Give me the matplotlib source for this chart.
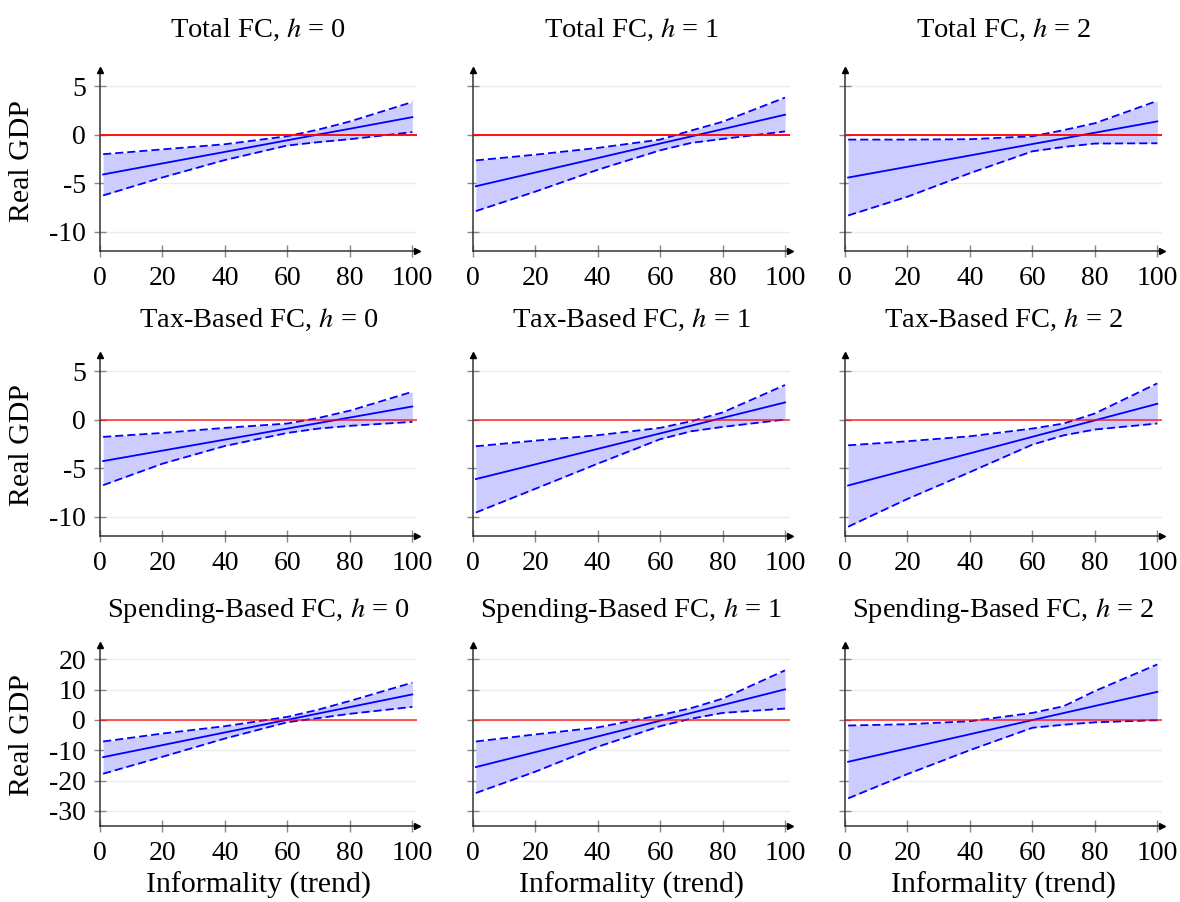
import numpy as np
import matplotlib
matplotlib.use('Agg')
import matplotlib.pyplot as plt

plt.rcParams['font.family'] = 'Liberation Serif'
plt.rcParams['mathtext.fontset'] = 'stix'
plt.rcParams['axes.unicode_minus'] = False
plt.rcParams['font.size'] = 20
plt.rcParams['xtick.labelsize'] = 20
plt.rcParams['ytick.labelsize'] = 20
plt.rcParams['axes.labelsize'] = 21.5
plt.rcParams['axes.titlesize'] = 20.5

#informality points where the estimates were read
infx = [1, 20, 40, 60, 70, 80, 100]

shocks = ['Total FC', 'Tax-Based FC', 'Spending-Based FC']
horizons = [0, 1, 2]

#point estimate and band, one list per horizon
total_coef = [[-4.09, -2.95, -1.76, -0.56, 0.04, 0.63, 1.83],
              [-5.31, -3.89, -2.40, -0.90, -0.16, 0.59, 2.08],
              [-4.41, -3.30, -2.13, -0.95, -0.37, 0.22, 1.39]]
total_lo = [[-6.26, -4.40, -2.60, -1.10, -0.75, -0.45, 0.28],
            [-7.88, -5.87, -3.61, -1.60, -0.83, -0.42, 0.35],
            [-8.33, -6.39, -3.96, -1.70, -1.25, -0.90, -0.87]]
total_hi = [[-2.00, -1.50, -0.97, -0.14, 0.55, 1.38, 3.39],
            [-2.64, -2.05, -1.35, -0.49, 0.45, 1.35, 3.85],
            [-0.49, -0.49, -0.45, -0.15, 0.49, 1.20, 3.51]]

tax_coef = [[-4.26, -3.18, -2.04, -0.90, -0.33, 0.24, 1.38],
            [-6.12, -4.60, -3.00, -1.40, -0.60, 0.20, 1.80],
            [-6.78, -5.16, -3.46, -1.75, -0.90, -0.05, 1.66]]
tax_lo = [[-6.75, -4.53, -2.70, -1.35, -0.90, -0.62, -0.21],
          [-9.58, -7.13, -4.53, -2.00, -1.18, -0.73, 0.03],
          [-11.04, -8.17, -5.40, -2.56, -1.60, -1.00, -0.38]]
tax_hi = [[-1.76, -1.35, -0.83, -0.38, 0.20, 0.95, 2.90],
          [-2.73, -2.15, -1.59, -0.83, -0.14, 0.76, 3.60],
          [-2.63, -2.21, -1.70, -0.90, -0.38, 0.66, 3.77]]

spend_coef = [[-12.29, -8.32, -4.14, 0.04, 2.13, 4.22, 8.40],
              [-15.57, -10.65, -5.47, -0.29, 2.30, 4.89, 10.07],
              [-13.82, -9.39, -4.73, -0.07, 2.26, 4.59, 9.25]]
spend_lo = [[-17.76, -12.17, -6.14, -0.77, 0.60, 2.00, 4.28],
            [-24.12, -17.10, -8.88, -2.08, 0.40, 2.30, 3.73],
            [-25.88, -17.87, -9.98, -2.60, -1.60, -0.80, -0.10]]
spend_hi = [[-7.13, -4.50, -2.08, 1.00, 3.40, 6.25, 12.28],
            [-7.13, -4.80, -2.50, 1.54, 3.90, 7.00, 16.34],
            [-1.86, -1.43, -0.44, 2.30, 4.50, 9.50, 18.30]]

coefs = [total_coef, tax_coef, spend_coef]
lows = [total_lo, tax_lo, spend_lo]
highs = [total_hi, tax_hi, spend_hi]

yticks = [[-10, -5, 0, 5], [-10, -5, 0, 5], [-30, -20, -10, 0, 10, 20]]
ylims = [(-12, 6.7), (-12, 6.7), (-35, 24.7)]
xticks = [0, 20, 40, 60, 80, 100]

fig = plt.figure(figsize=(11.8, 9.02), dpi=100)

#axes placement in pixels
lefts = [100, 472.7, 845]
tops = [70, 355, 645]
w = 317
h = 181
title_pads = [24, 20, 20]

for i in range(3):
    for j in range(3):
        ax = fig.add_axes([lefts[j] / 1180, 1 - (tops[i] + h) / 902, w / 1180, h / 902])

        ax.fill_between(infx, lows[i][j], highs[i][j], color='#ccccff', lw=0, zorder=1)
        ax.plot(infx, lows[i][j], color='blue', ls='--', dashes=(4.5, 2.2), lw=1.3, zorder=2)
        ax.plot(infx, highs[i][j], color='blue', ls='--', dashes=(4.5, 2.2), lw=1.3, zorder=2)
        ax.plot(infx, coefs[i][j], color='blue', lw=1.3, zorder=3)
        ax.axhline(0, color='red', lw=1.3, alpha=1.0 if i == 0 else 0.7, zorder=4)

        ax.set_xlim(0, 101.5)
        ax.set_ylim(ylims[i])
        ax.set_xticks(xticks)
        ax.set_yticks(yticks[i])
        if j > 0:
            ax.set_yticklabels([])
        ax.grid(axis='y', color='#ececec', lw=1)
        ax.set_axisbelow(True)

        for s in ['top', 'right']:
            ax.spines[s].set_visible(False)
        for s in ['left', 'bottom']:
            ax.spines[s].set_color('#333333')
            ax.spines[s].set_linewidth(1.1)
        ax.tick_params(direction='inout', length=8, width=1, color='#888888')
        ax.tick_params(axis='x', pad=7)
        ax.tick_params(axis='y', pad=6)

        #axis arrows
        ax.plot(1, 0, '>', color='black', ms=5, transform=ax.transAxes, clip_on=False, zorder=5)
        ax.plot(0, 1, '^', color='black', ms=5, transform=ax.transAxes, clip_on=False, zorder=5)

        ax.set_title(shocks[i] + ', $h$ = %d' % horizons[j], pad=title_pads[i])
        if j == 0:
            ax.set_ylabel('Real GDP')
            ax.yaxis.set_label_coords(-0.205, 0.5)
        if i == 2:
            ax.set_xlabel('Informality (trend)')
            ax.xaxis.set_label_coords(0.5, -0.25)

fig.savefig('out.png', dpi=100)
